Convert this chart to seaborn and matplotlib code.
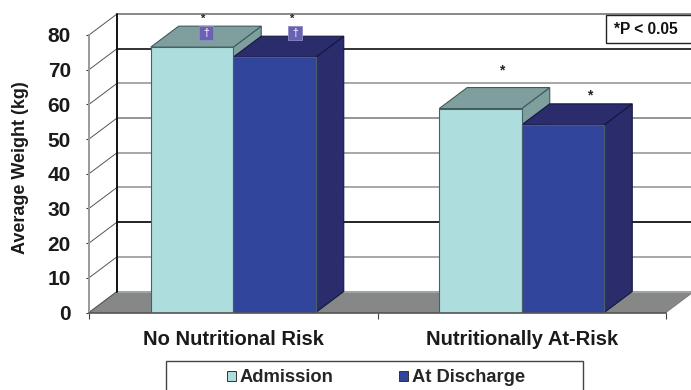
##  3D looking bar chart: average weight at admission and at discharge

    #----------------------------------------------------
    # IMPORT
    #----------------------------------------------------

import matplotlib
matplotlib.use("Agg")
import matplotlib.pyplot as plt
from matplotlib.patches import Polygon, Rectangle
import pandas as pd
import seaborn as sns

    #----------------------------------------------------
    # DATA
    #----------------------------------------------------

categories = ["No Nutritional Risk", "Nutritionally At-Risk"]
series_names = ["Admission", "At Discharge"]
admission = [76.5, 58.8]
discharge = [73.6, 54.1]
y_ticks = [0, 10, 20, 30, 40, 50, 60, 70, 80]
grid_colors = ["#a8a8a8", "#a0a0a0", "#111111", "#a0a0a0", "#a0a0a0", "#8c8c8c", "#a0a0a0", "#222222", "#808080"]

# annotations over the bars
star_x = [-0.105, 0.204, 0.932, 1.237]
star_y = [84.8, 84.8, 69.9, 62.7]
dagger_x = [-0.094, 0.214]
dagger_y = [80.6, 80.6]

# fake depth of the chart, in data units
DEPTH_X = 0.097
DEPTH_Y = 6.05

    #----------------------------------------------------
    # DRAW
    #----------------------------------------------------

## top and side of one bar, from the bar drawn by seaborn
#
def add_bar_depth(ax, bar, side_color, edge_color, order):
    x0 = bar.get_x()
    x1 = x0 + bar.get_width()
    top = bar.get_height()
    top_face = [(x0, top), (x1, top), (x1 + DEPTH_X, top + DEPTH_Y), (x0 + DEPTH_X, top + DEPTH_Y)]
    side_face = [(x1, 0), (x1 + DEPTH_X, DEPTH_Y), (x1 + DEPTH_X, top + DEPTH_Y), (x1, top)]
    for face in (side_face, top_face):
        ax.add_patch(Polygon(face, closed=True, facecolor=side_color, edgecolor=edge_color,
                             linewidth=0.8, zorder=order, clip_on=False))


def draw_walls(ax, xmin, xmax):
    #floor
    floor = [(xmin, 0), (xmax, 0), (xmax + DEPTH_X, DEPTH_Y), (xmin + DEPTH_X, DEPTH_Y)]
    ax.add_patch(Polygon(floor, closed=True, facecolor="#868888", edgecolor="#777777",
                         linewidth=0.6, zorder=0.5, clip_on=False))
    #back wall lines and side wall lines
    for value, color in zip(y_ticks, grid_colors):
        ax.plot([xmin + DEPTH_X, xmax + DEPTH_X], [value + DEPTH_Y, value + DEPTH_Y],
                color=color, lw=1.3, zorder=0.6, clip_on=False)
        ax.plot([xmin, xmin + DEPTH_X], [value, value + DEPTH_Y],
                color="#555555", lw=0.7, zorder=0.6, clip_on=False)
    ax.plot([xmin + DEPTH_X, xmin + DEPTH_X], [DEPTH_Y, y_ticks[-1] + DEPTH_Y],
            color="#111111", lw=1.4, zorder=0.7, clip_on=False)


def main():
    sns.set_style("white")
    plt.rcParams["font.family"] = ["Liberation Sans", "DejaVu Sans"]

    df = pd.DataFrame({
        "group": categories * 2,
        "series": [series_names[0]] * 2 + [series_names[1]] * 2,
        "weight": admission + discharge,
    })

    front_colors = {series_names[0]: "#aedddd", series_names[1]: "#30459b"}
    depth_colors = {series_names[0]: "#7f9f9f", series_names[1]: "#2a2c6c"}
    edge_colors = {series_names[0]: "#3f5a5a", series_names[1]: "#15173f"}

    my_fig = plt.figure(figsize=(6.91, 3.9), dpi=100)
    ax = my_fig.add_axes([89 / 691, 1 - 312.5 / 390, 577 / 691, 277.5 / 390])
    ax.patch.set_alpha(0)

    sns.barplot(data=df, x="group", y="weight", hue="series", order=categories, hue_order=series_names,
                palette=front_colors, saturation=1, width=0.572, gap=0, legend=False,
                zorder=3, linewidth=0.8, edgecolor="#4a5f6a", ax=ax)

    xmin, xmax = -0.5, 1.5
    ax.set_xlim(xmin, xmax)
    ax.set_ylim(0, 80)

    draw_walls(ax, xmin, xmax)

    for i, container in enumerate(ax.containers):
        name = series_names[i]
        for bar in container:
            add_bar_depth(ax, bar, depth_colors[name], edge_colors[name], 2 + i * 0.1)

    #axis look
    sns.despine(ax=ax, top=True, right=True)
    ax.spines["left"].set_color("#9a9a9a")
    ax.spines["left"].set_linewidth(1.4)
    ax.spines["bottom"].set_color("#555555")
    ax.spines["bottom"].set_linewidth(1.2)
    ax.spines["bottom"].set_zorder(4)
    ax.set_yticks(y_ticks)
    ax.tick_params(axis="y", length=2, width=0.8, color="#333333", pad=11, left=True)
    ax.tick_params(axis="x", length=0, pad=12.5)
    ax.set_xticks([xmin, 0.5, xmax], minor=True)
    ax.tick_params(axis="x", which="minor", length=4, width=0.8, color="#444444", bottom=True)
    for label in ax.get_yticklabels():
        label.set_fontsize(15)
        label.set_fontweight("bold")
        label.set_color("#1a1a1a")
    for label in ax.get_xticklabels():
        label.set_fontsize(14.5)
        label.set_fontweight("bold")
        label.set_color("#1a1a1a")
    ax.set_xlabel("")
    ax.set_ylabel("")
    my_fig.text(21 / 691, 1 - 168 / 390, "Average Weight (kg)", rotation=90, ha="center", va="center",
                fontsize=13, fontweight="bold", color="#1a1a1a")

    #stars and daggers, the two upper stars are smaller
    for i, (x, y) in enumerate(zip(star_x, star_y)):
        ax.text(x, y, "*", ha="center", va="center", fontsize=8 if i < 2 else 10, fontweight="bold",
                color="#222222", zorder=6, clip_on=False)
    ax.plot(dagger_x, dagger_y, linestyle="none", marker="s", markersize=9.8, markerfacecolor="#6a61b4",
            markeredgecolor="#8c8cc0", markeredgewidth=0.6, zorder=5, clip_on=False)
    for x, y in zip(dagger_x, dagger_y):
        ax.text(x, y, "\u2020", ha="center", va="center", fontsize=7.5, color="white", zorder=6, clip_on=False)

    #p value box
    my_fig.add_artist(Rectangle((606 / 691, 1 - 43 / 390), 90 / 691, 28 / 390, transform=my_fig.transFigure,
                                facecolor="white", edgecolor="#222222", linewidth=1, zorder=5))
    my_fig.text(614 / 691, 1 - 29.5 / 390, "*P < 0.05", ha="left", va="center", fontsize=11.2,
                fontweight="bold", color="#111111", zorder=6)

    #legend, the box runs out of the picture at the bottom
    my_fig.add_artist(Rectangle((166 / 691, -0.02), 417 / 691, 1 - 361 / 390 + 0.02, transform=my_fig.transFigure,
                                facecolor="white", edgecolor="#444444", linewidth=1, zorder=5))
    handles = [Rectangle((0, 0), 1, 1, facecolor=front_colors[n], edgecolor="#333333", linewidth=0.7) for n in series_names]
    my_legend = my_fig.legend(handles, series_names, ncol=2, frameon=False, loc="center",
                              bbox_to_anchor=(376 / 691, 1 - 378 / 390),
                              handlelength=0.5, handleheight=0.5, handletextpad=0.23, columnspacing=3.55,
                              prop=dict(size=13.2, weight="bold"))
    my_legend.set_zorder(7)

    my_fig.savefig("out.png", dpi=100)


## if the file is being read WITH the intent of being executed
if __name__ == '__main__':
    main()
